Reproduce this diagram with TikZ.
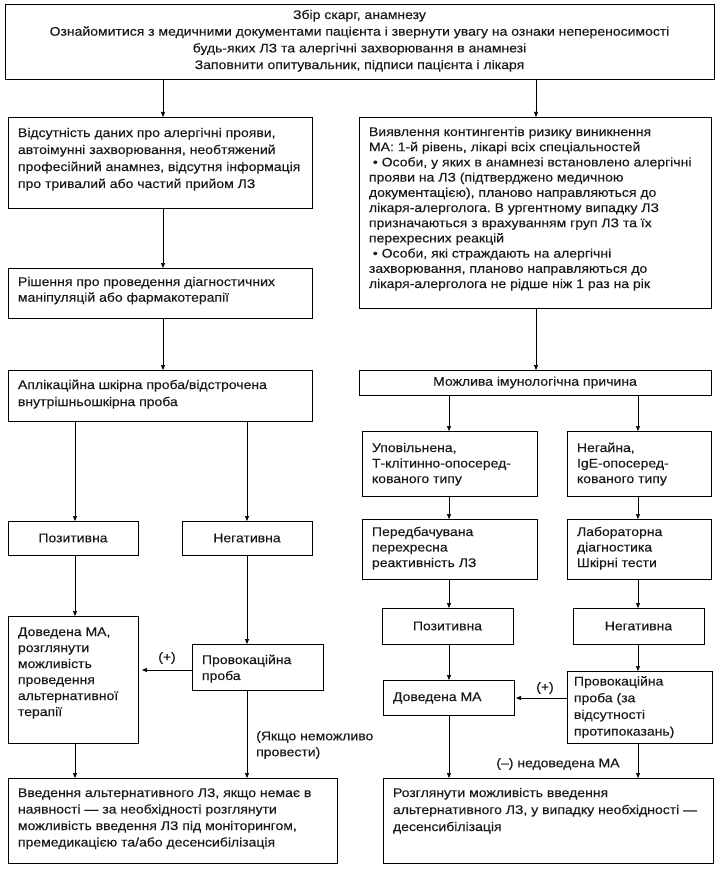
\documentclass[tikz,border=0pt]{standalone}
\usepackage{fontspec}
\setmainfont{Liberation Sans}[FakeStretch=1.12,FakeBold=0.25]
\usetikzlibrary{arrows.meta}
\frenchspacing
\newcommand\bt[5]{\parbox[c][#2][t]{#1}{\raggedright\fontsize{12.5pt}{#3}\selectfont\rule{0pt}{#4}#5}}
\begin{document}
\begin{tikzpicture}[x=1pt,y=-1pt,
  every node/.style={font=\fontsize{12.5pt}{14pt}\selectfont, text=black!90},
  box/.style={draw, line width=0.9pt, anchor=north west, inner xsep=10pt, inner ysep=0pt, outer sep=0pt},
  cbox/.style={draw, line width=0.9pt, anchor=north west, inner sep=0pt, outer sep=0pt},
  arr/.style={line width=0.7pt, -{Triangle[length=5pt,width=4pt]}},
  lbl/.style={inner sep=0pt}]
\useasboundingbox (0,0) rectangle (721,872);
% columns and rows
\coordinate (cA) at (163,0);
\coordinate (cB) at (75,0);
\coordinate (cC) at (247,0);
\coordinate (cD) at (536,0);
\coordinate (cE) at (449,0);
\coordinate (cF) at (638,0);
\coordinate (rA) at (0,670);
\coordinate (rB) at (0,698);
% boxes
\node[box] (top) at (5,4) {\bt{689pt}{75pt}{16.7pt}{15pt}{\centering Збір скарг, анамнезу\\
Ознайомитися з медичними документами пацієнта і звернути увагу на ознаки непереносимості\\
будь-яких ЛЗ та алергічні захворювання в анамнезі\\
Заповнити опитувальник, підписи пацієнта і лікаря}};
\node[box] (L1) at (8,117) {\bt{284pt}{91pt}{17pt}{20pt}{Відсутність даних про алергічні прояви,\\
автоімунні захворювання, необтяжений\\
професійний анамнез, відсутня інформація\\
про тривалий або частий прийом ЛЗ}};
\node[box] (L2) at (8,268) {\bt{284pt}{50pt}{15.7pt}{18pt}{Рішення про проведення діагностичних\\
маніпуляцій або фармакотерапії}};
\node[box] (L3) at (8,370) {\bt{284pt}{51pt}{17pt}{19pt}{Аплікаційна шкірна проба/відстрочена\\
внутрішньошкірна проба}};
\node[cbox, minimum width=130pt, minimum height=34pt] (posL) at (8,521) {Позитивна};
\node[cbox, minimum width=130pt, minimum height=34pt] (negL) at (182,521) {Негативна};
\node[box] (dovL) at (8,616) {\bt{110pt}{127pt}{16pt}{20pt}{Доведена МА,\\
розглянути\\
можливість\\
проведення\\
альтернативної\\
терапії}};
\node[box] (provL) at (192,644) {\bt{111pt}{46pt}{16pt}{20pt}{Провокаційна\\
проба}};
\node[box] (BL) at (8,778) {\bt{309pt}{85pt}{16.5pt}{19pt}{Введення альтернативного ЛЗ, якщо немає в\\
наявності — за необхідності розглянути\\
можливість введення ЛЗ під моніторингом,\\
премедикацією та/або десенсибілізація}};
\node[box] (R1) at (359,117) {\bt{332pt}{191pt}{15.2pt}{19pt}{Виявлення контингентів ризику виникнення\\
МА: 1-й рівень, лікарі всіх спеціальностей\\
\ • Особи, у яких в анамнезі встановлено алергічні\\
прояви на ЛЗ (підтверджено медичною\\
документацією), планово направляються до\\
лікаря-алерголога. В ургентному випадку ЛЗ\\
призначаються з врахуванням груп ЛЗ та їх\\
перехресних реакцій\\
\ • Особи, які страждають на алергічні\\
захворювання, планово направляються до\\
лікаря-алерголога не рідше ніж 1 раз на рік}};
\node[cbox, minimum width=352pt, minimum height=25pt] (mozh) at (359,370) {Можлива імунологічна причина};
\node[box] (upov) at (362,431) {\bt{155pt}{65pt}{15.5pt}{21pt}{Уповільнена,\\
Т-клітинно-опосеред-\\
кованого типу}};
\node[box] (neg) at (567,431) {\bt{124pt}{65pt}{15.5pt}{21pt}{Негайна,\\
IgE-опосеред-\\
кованого типу}};
\node[box] (pered) at (362,519) {\bt{155pt}{60pt}{15.5pt}{17pt}{Передбачувана\\
перехресна\\
реактивність ЛЗ}};
\node[box] (lab) at (567,519) {\bt{124pt}{60pt}{15.5pt}{17pt}{Лабораторна\\
діагностика\\
Шкірні тести}};
\node[cbox, minimum width=131pt, minimum height=36pt] (posR) at (382,608) {Позитивна};
\node[cbox, minimum width=131pt, minimum height=36pt] (negR) at (573,608) {Негативна};
\node[box] (dovR) at (383,680) {\bt{111pt}{35pt}{16pt}{21pt}{Доведена МА}};
\node[box, inner xsep=7pt] (provR) at (567,671) {\bt{131pt}{72pt}{16.7pt}{14.5pt}{Провокаційна\\
проба (за\\
відсутності\\
протипоказань)}};
\node[box] (BR) at (383,778) {\bt{310pt}{85pt}{17pt}{19pt}{Розглянути можливість введення\\
альтернативного ЛЗ, у випадку необхідності —\\
десенсибілізація}};
% labels
\node[lbl] (plusL) at (167,658) {(+)};
\node[lbl] (plusR) at (545,688) {(+)};
\node[lbl, anchor=north west, align=left, font=\fontsize{12.5pt}{16pt}\selectfont] (ifnot) at (256,731) {(Якщо неможливо\\провести)};
\node[lbl] (notproven) at (558,764) {(–) недоведена МА};
% connectors left
\draw[arr] (top.south -| cA) -- (L1.north -| cA);
\draw[arr] (L1.south -| cA) -- (L2.north -| cA);
\draw[arr] (L2.south -| cA) -- (L3.north -| cA);
\draw[arr] (L3.south -| cB) -- (posL.north -| cB);
\draw[arr] (L3.south -| cC) -- (negL.north -| cC);
\draw[arr] (posL.south -| cB) -- (dovL.north -| cB);
\draw[arr] (negL.south -| cC) -- (provL.north -| cC);
\draw[arr, shorten >=4pt] (provL.west |- rA) -- (dovL.east |- rA);
\draw[arr] (dovL.south -| cB) -- (BL.north -| cB);
\draw[arr] (provL.south -| cC) -- (BL.north -| cC);
% connectors right
\draw[arr] (top.south -| cD) -- (R1.north -| cD);
\draw[arr] (R1.south -| cD) -- (mozh.north -| cD);
\draw[arr] (mozh.south -| cE) -- (upov.north -| cE);
\draw[arr] (mozh.south -| cF) -- (neg.north -| cF);
\draw[arr] (upov.south -| cE) -- (pered.north -| cE);
\draw[arr] (neg.south -| cF) -- (lab.north -| cF);
\draw[arr] (pered.south -| cE) -- (posR.north -| cE);
\draw[arr] (lab.south -| cF) -- (negR.north -| cF);
\draw[arr] (posR.south -| cE) -- (dovR.north -| cE);
\draw[arr] (negR.south -| cF) -- (provR.north -| cF);
\draw[arr, shorten >=2pt] (provR.west |- rB) -- (dovR.east |- rB);
\draw[arr] (dovR.south -| cE) -- (BR.north -| cE);
\draw[arr] (provR.south -| cF) -- (BR.north -| cF);
\end{tikzpicture}
\end{document}
